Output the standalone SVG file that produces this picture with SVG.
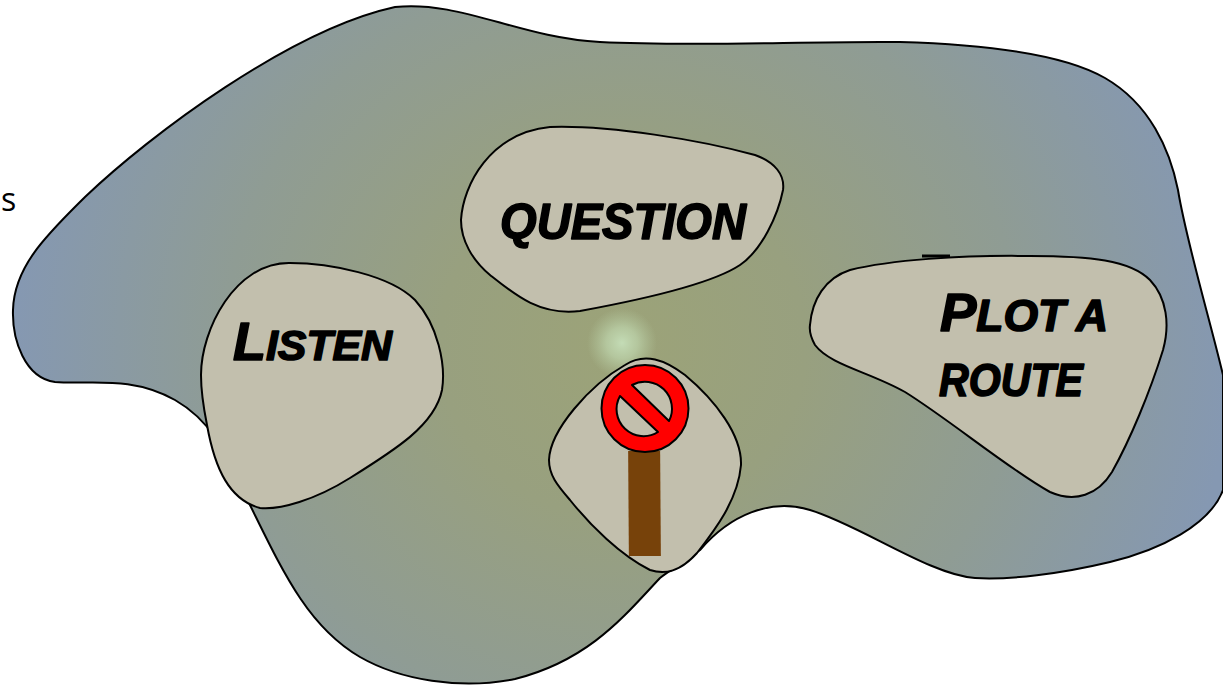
<svg xmlns="http://www.w3.org/2000/svg" width="1223" height="687" viewBox="0 0 1223 687">
<defs>
<radialGradient id="bg" gradientUnits="userSpaceOnUse" cx="622" cy="345" r="610" gradientTransform="translate(622 345) scale(1 .95) translate(-622 -345)">
<stop offset="0" stop-color="#9ca378"/><stop offset=".3" stop-color="#98a07f"/><stop offset=".65" stop-color="#8f9c94"/><stop offset="1" stop-color="#8598b2"/>
</radialGradient>
<radialGradient id="glow"><stop offset="0" stop-color="#c4dcb6"/><stop offset=".45" stop-color="#bcd2aa" stop-opacity=".75"/><stop offset="1" stop-color="#b4c8a0" stop-opacity="0"/></radialGradient>
</defs>
<style>
.ln{stroke:#000;stroke-width:2;fill:#c2bfad}
.t{font-family:"Liberation Sans",sans-serif;font-weight:700;font-style:italic;fill:#000;stroke:#000;stroke-width:1.6;stroke-linejoin:round}
</style>
<g id="field">
<path d="M13 310C14 265 50 232 85 197C150 135 290 30 395 7C460 0 520 38 600 42C700 47 800 41 900 42C970 44 1060 52 1105 78C1150 104 1170 150 1178 190C1186 240 1210 320 1223 375L1223 490C1210 525 1160 550 1110 562C1060 574 1010 580 975 578C930 575 860 525 810 510C770 498 730 515 700 550C680 565 670 570 660 578C625 615 590 660 515 679C460 690 400 680 360 657C305 625 280 565 245 495C225 450 210 420 175 400C130 375 90 385 55 382C25 378 12 340 13 310Z" fill="url(#bg)" stroke="#000" stroke-width="2"/>
<circle cx="622" cy="343" r="35" fill="url(#glow)"/>
<text x="1" y="211" font-family="'Open Sans','Liberation Sans',sans-serif" font-size="32" fill="#000">s</text>
</g>
<g id="listen">
<path class="ln" d="M201 375C201 330 235 262 290 263C330 263 390 275 415 300C438 325 446 365 442 390C435 425 395 450 350 478C315 500 280 510 260 508C230 500 215 470 207 425C203 405 201 390 201 375Z"/>
<text class="t" x="233" y="360" font-size="42" textLength="159" lengthAdjust="spacingAndGlyphs"><tspan font-size="53">L</tspan>ISTEN</text>
</g>
<g id="question">
<path class="ln" d="M461 220C463 185 490 133 550 127C610 125 700 140 755 155C775 162 785 175 783 190C778 215 762 250 740 265C710 285 640 300 580 311C540 316 515 295 490 275C472 260 461 240 461 220Z"/>
<text class="t" x="500" y="239" font-size="50" textLength="246" lengthAdjust="spacingAndGlyphs">QUESTION</text>
</g>
<g id="route">
<path class="ln" d="M810 325C812 300 825 278 850 270C890 260 960 255 1030 256C1090 256 1130 260 1150 280C1167 298 1170 325 1163 350C1150 392 1130 440 1112 472C1098 495 1075 503 1050 492C1010 470 950 420 905 392C870 372 830 365 815 345C811 338 809 332 810 325Z"/>
<path d="M922 256L950 256" stroke="#000" stroke-width="3" fill="none"/>
<text class="t" x="940" y="331" font-size="44" textLength="168" lengthAdjust="spacingAndGlyphs"><tspan font-size="54">P</tspan>LOT A</text>
<text class="t" x="939" y="396" font-size="47" textLength="144" lengthAdjust="spacingAndGlyphs">ROUTE</text>
</g>
<g id="blocked">
<path class="ln" d="M549 460C550 430 590 385 625 365C645 352 665 360 685 375C715 400 742 435 741 465C738 500 715 530 697 553C680 572 665 575 650 570C620 555 590 525 570 500C557 485 549 475 549 460Z"/>
<rect x="628.500" y="451" width="32" height="105" fill="#77420a" transform="rotate(-.4 645 503)"/>
<circle cx="645" cy="408.500" r="43.500" fill="#f00" stroke="#000" stroke-width="2"/>
<path d="M620 396A27 27 0 0 0 658 432Z M632 385A27 27 0 0 1 669 421Z" fill="#c2bfad" stroke="#000" stroke-width="2" stroke-linejoin="round"/>
</g>
<g id="connectors"/>
</svg>
